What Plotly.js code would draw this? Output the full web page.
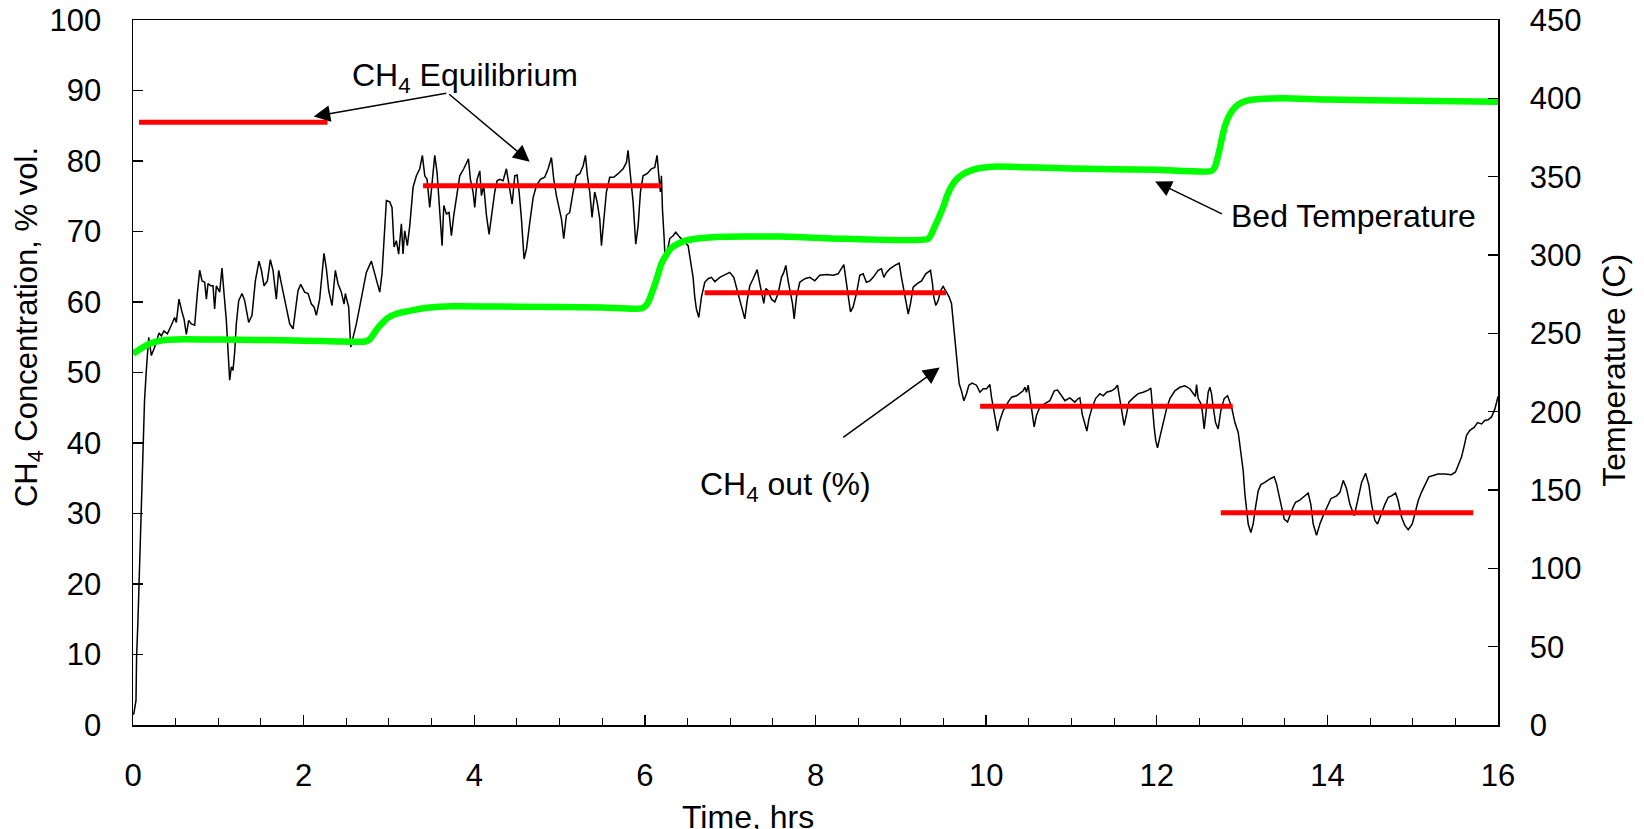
<!DOCTYPE html>
<html>
<head>
<meta charset="utf-8">
<script src="https://cdn.plot.ly/plotly-3.0.1.min.js"></script>
<style>
  html, body { margin: 0; padding: 0; background: #fff; }
  #chart { width: 1644px; height: 829px; }
</style>
</head>
<body>
<div id="chart"></div>
<script>
// Measured CH4 concentration at the reactor outlet (% vol.) versus time (hrs)
const timeHrs = [
  0.00, 0.01, 0.035, 0.042, 0.058, 0.075, 0.096, 0.109, 0.121, 0.135, 0.156, 0.184,
  0.215, 0.254, 0.305, 0.332, 0.363, 0.403, 0.449, 0.488, 0.508, 0.539, 0.574, 0.598,
  0.625, 0.653, 0.684, 0.723, 0.754, 0.782, 0.809, 0.840, 0.860, 0.879, 0.911, 0.938,
  0.957, 0.977, 1.016, 1.043, 1.067, 1.094, 1.114, 1.133, 1.153, 1.172, 1.192, 1.211,
  1.239, 1.278, 1.309, 1.356, 1.395, 1.434, 1.477, 1.505, 1.536, 1.575, 1.610, 1.641,
  1.680, 1.708, 1.739, 1.778, 1.809, 1.837, 1.876, 1.903, 1.934, 1.966, 2.012, 2.052,
  2.091, 2.122, 2.149, 2.188, 2.216, 2.239, 2.267, 2.294, 2.333, 2.372, 2.403, 2.442,
  2.474, 2.489, 2.513, 2.528, 2.552, 2.591, 2.618, 2.657, 2.696, 2.735, 2.794, 2.841,
  2.892, 2.919, 2.943, 2.970, 3.009, 3.036, 3.060, 3.087, 3.114, 3.146, 3.165, 3.185,
  3.216, 3.244, 3.283, 3.322, 3.361, 3.392, 3.420, 3.447, 3.478, 3.510, 3.537, 3.564,
  3.588, 3.603, 3.623, 3.643, 3.674, 3.705, 3.732, 3.760, 3.791, 3.830, 3.877, 3.932,
  3.955, 3.986, 4.006, 4.033, 4.065, 4.084, 4.111, 4.143, 4.174, 4.201, 4.240, 4.268,
  4.299, 4.338, 4.377, 4.416, 4.444, 4.475, 4.502, 4.526, 4.553, 4.584, 4.612, 4.651,
  4.690, 4.729, 4.776, 4.826, 4.866, 4.905, 4.932, 4.963, 4.995, 5.022, 5.049, 5.080,
  5.119, 5.158, 5.198, 5.237, 5.276, 5.303, 5.327, 5.354, 5.381, 5.412, 5.440, 5.471,
  5.491, 5.518, 5.549, 5.588, 5.635, 5.686, 5.745, 5.784, 5.803, 5.831, 5.862, 5.893,
  5.921, 5.948, 5.979, 6.026, 6.077, 6.116, 6.143, 6.167, 6.182, 6.194, 6.206, 6.226,
  6.237, 6.261, 6.292, 6.331, 6.362, 6.409, 6.468, 6.507, 6.534, 6.565, 6.585, 6.604,
  6.632, 6.663, 6.702, 6.741, 6.780, 6.820, 6.878, 6.937, 6.995, 7.042, 7.073, 7.113,
  7.144, 7.171, 7.199, 7.230, 7.269, 7.316, 7.347, 7.367, 7.394, 7.418, 7.445, 7.484,
  7.523, 7.562, 7.601, 7.628, 7.652, 7.679, 7.706, 7.730, 7.750, 7.777, 7.816, 7.875,
  7.933, 7.992, 8.050, 8.129, 8.207, 8.265, 8.332, 8.355, 8.383, 8.410, 8.441, 8.480,
  8.519, 8.558, 8.597, 8.637, 8.676, 8.734, 8.773, 8.801, 8.832, 8.871, 8.930, 8.981,
  9.008, 9.036, 9.067, 9.087, 9.114, 9.145, 9.192, 9.243, 9.293, 9.320, 9.348, 9.371,
  9.387, 9.410, 9.438, 9.465, 9.496, 9.535, 9.567, 9.594, 9.613, 9.633, 9.653, 9.672,
  9.684, 9.711, 9.739, 9.770, 9.798, 9.836, 9.887, 9.927, 9.966, 10.005, 10.044, 10.063,
  10.094, 10.114, 10.133, 10.161, 10.200, 10.258, 10.298, 10.356, 10.395, 10.434, 10.454, 10.473,
  10.493, 10.512, 10.532, 10.563, 10.590, 10.630, 10.688, 10.747, 10.798, 10.837, 10.884, 10.923,
  10.982, 11.040, 11.079, 11.099, 11.126, 11.158, 11.181, 11.205, 11.236, 11.283, 11.333, 11.373,
  11.412, 11.470, 11.509, 11.540, 11.568, 11.595, 11.618, 11.646, 11.673, 11.724, 11.782, 11.841,
  11.900, 11.931, 11.946, 11.970, 11.989, 12.009, 12.036, 12.075, 12.114, 12.154, 12.212, 12.271,
  12.330, 12.388, 12.427, 12.454, 12.466, 12.486, 12.517, 12.533, 12.556, 12.583, 12.603, 12.623,
  12.642, 12.662, 12.689, 12.720, 12.751, 12.790, 12.830, 12.877, 12.916, 12.955, 12.986, 13.013,
  13.033, 13.052, 13.072, 13.103, 13.130, 13.158, 13.189, 13.220, 13.267, 13.326, 13.377, 13.404,
  13.431, 13.463, 13.494, 13.533, 13.560, 13.599, 13.627, 13.677, 13.716, 13.775, 13.806, 13.834,
  13.873, 13.912, 13.951, 13.990, 14.041, 14.108, 14.147, 14.186, 14.225, 14.264, 14.315, 14.354,
  14.401, 14.448, 14.487, 14.518, 14.557, 14.588, 14.627, 14.674, 14.713, 14.752, 14.799, 14.830,
  14.869, 14.908, 14.947, 14.994, 15.025, 15.064, 15.103, 15.142, 15.189, 15.240, 15.298, 15.377,
  15.455, 15.502, 15.533, 15.572, 15.604, 15.631, 15.670, 15.721, 15.760, 15.807, 15.846, 15.885,
  15.924, 15.963, 15.994, 16.000
];
const ch4Out = [
  1.5, 1.6, 3.5, 9.6, 14.8, 22.3, 29.8, 33.6, 39.7, 46.0, 50.3, 55.0,
  52.4, 53.6, 55.6, 55.2, 55.9, 55.5, 56.7, 57.8, 57.1, 60.4, 58.6, 57.6,
  55.4, 57.4, 56.9, 56.7, 61.2, 64.5, 63.0, 62.8, 60.4, 62.6, 62.3, 62.3,
  59.0, 62.3, 61.4, 64.8, 61.2, 57.4, 53.1, 48.9, 50.8, 50.3, 52.9, 56.9,
  60.2, 61.2, 60.2, 57.1, 58.1, 63.0, 65.8, 64.5, 62.3, 63.0, 66.0, 64.5,
  60.4, 64.5, 62.6, 60.4, 58.8, 56.9, 56.2, 58.8, 61.6, 62.5, 61.4, 61.2,
  59.7, 59.3, 58.1, 60.4, 64.5, 66.9, 64.7, 61.6, 59.5, 64.5, 62.6, 61.4,
  59.7, 61.2, 60.0, 59.3, 53.6, 55.5, 56.9, 59.3, 61.9, 64.2, 65.8, 63.5,
  61.4, 64.0, 69.2, 74.4, 74.2, 73.4, 67.8, 68.7, 66.8, 71.1, 66.8, 70.1,
  68.0, 70.8, 76.3, 77.9, 78.9, 80.8, 77.9, 77.4, 73.4, 77.4, 80.8, 78.4,
  74.2, 71.3, 68.0, 73.7, 72.5, 72.7, 69.4, 72.3, 74.6, 77.9, 78.9, 80.3,
  77.4, 75.6, 73.4, 77.4, 78.6, 75.1, 76.5, 72.3, 69.6, 72.3, 75.6, 77.2,
  77.4, 77.2, 78.9, 76.0, 73.9, 77.9, 78.0, 75.6, 71.8, 66.1, 67.5, 71.3,
  74.8, 76.5, 77.4, 77.7, 78.9, 80.5, 77.4, 75.1, 73.0, 71.8, 69.0, 72.3,
  72.7, 75.6, 77.9, 78.2, 79.3, 80.8, 77.9, 75.6, 72.0, 75.6, 74.2, 71.8,
  68.0, 71.8, 75.6, 77.7, 77.7, 78.2, 78.9, 79.8, 81.5, 77.9, 74.2, 68.2,
  70.8, 75.6, 77.9, 78.2, 78.9, 79.1, 80.8, 77.4, 75.6, 77.9, 73.2, 69.0,
  66.1, 67.1, 69.0, 69.4, 69.9, 69.2, 68.5, 68.0, 65.9, 63.5, 60.7, 59.0,
  57.8, 60.7, 62.8, 63.3, 63.5, 62.9, 63.5, 63.8, 64.2, 63.5, 62.1, 60.4,
  59.0, 57.6, 60.2, 62.3, 63.3, 64.6, 62.6, 61.2, 59.8, 61.9, 61.6, 60.4,
  60.0, 61.2, 63.5, 64.2, 65.2, 63.0, 61.2, 59.8, 57.6, 60.7, 62.8, 63.3,
  63.5, 63.0, 63.8, 63.9, 63.8, 64.0, 65.3, 63.5, 61.2, 58.6, 59.3, 61.2,
  63.8, 64.0, 62.8, 63.0, 63.5, 64.5, 64.7, 63.5, 64.2, 64.7, 65.2, 65.5,
  63.5, 61.6, 59.5, 58.3, 59.8, 62.1, 62.6, 63.0, 64.0, 64.2, 64.5, 62.6,
  60.7, 59.5, 60.2, 61.6, 62.2, 61.4, 60.7, 59.8, 57.4, 55.0, 52.6, 49.8,
  48.4, 47.4, 46.0, 47.0, 48.2, 48.5, 48.2, 47.2, 47.7, 47.7, 48.3, 46.5,
  44.6, 43.2, 41.7, 43.2, 44.6, 45.8, 46.5, 46.7, 47.0, 47.4, 47.9, 47.2,
  48.2, 46.5, 44.6, 42.3, 43.9, 45.1, 45.6, 46.0, 47.4, 47.5, 46.7, 46.0,
  46.4, 45.8, 46.3, 46.4, 44.1, 42.9, 41.7, 43.4, 44.8, 46.3, 47.0, 46.7,
  47.2, 47.4, 47.7, 48.2, 46.0, 44.1, 42.5, 44.1, 45.8, 46.4, 47.0, 47.2,
  47.5, 47.8, 45.1, 42.2, 40.3, 39.3, 40.8, 42.9, 44.8, 46.3, 47.4, 47.9,
  48.1, 47.7, 47.0, 46.6, 48.3, 46.3, 45.6, 44.6, 42.0, 45.1, 47.2, 47.9,
  47.0, 45.1, 42.9, 42.0, 44.6, 46.3, 46.7, 45.1, 42.9, 41.5, 38.9, 36.1,
  32.8, 30.4, 28.5, 27.3, 28.5, 30.9, 33.2, 34.1, 34.4, 34.9, 35.2, 34.2,
  32.8, 30.9, 29.2, 28.8, 29.7, 30.9, 31.6, 31.9, 32.3, 32.9, 31.3, 28.5,
  26.9, 28.5, 29.7, 30.7, 32.1, 32.5, 33.0, 34.7, 33.5, 31.3, 29.7, 31.8,
  34.4, 35.7, 34.0, 31.3, 29.0, 28.5, 29.9, 31.3, 32.3, 32.5, 32.9, 31.8,
  29.5, 28.3, 27.7, 28.5, 29.9, 31.8, 33.0, 34.0, 35.2, 35.4, 35.6, 35.6,
  35.5, 35.9, 36.8, 38.0, 39.6, 41.1, 41.8, 42.2, 42.9, 42.7, 43.2, 43.3,
  43.7, 44.8, 46.3, 46.6
];

// Bed temperature (C), right-hand axis
const bedTime = [
  0.00, 0.10, 0.20, 0.35, 0.60, 1.00, 1.50, 2.00, 2.40, 2.72, 2.77, 2.82,
  2.87, 2.93, 2.99, 3.08, 3.17, 3.30, 3.45, 3.75, 4.50, 5.50, 5.97, 6.03,
  6.09, 6.14, 6.19, 6.25, 6.31, 6.40, 6.49, 6.62, 6.80, 7.58, 8.36, 9.32,
  9.36, 9.40, 9.45, 9.50, 9.54, 9.59, 9.65, 9.72, 9.81, 9.93, 10.09, 11.00,
  12.00, 12.64, 12.68, 12.71, 12.74, 12.77, 12.80, 12.84, 12.89, 12.95, 13.01, 13.10,
  13.20, 13.50, 14.00, 15.00, 16.00
];
const bedTemp = [
  237.0, 240.5, 243.5, 245.6, 246.2, 246.0, 245.7, 245.3, 244.8, 244.8, 246.0, 249.5,
  253.4, 257.0, 260.0, 262.3, 263.6, 265.0, 266.3, 267.3, 267.0, 266.5, 266.0, 269.0,
  277.0, 285.0, 294.0, 300.0, 304.5, 307.5, 309.3, 310.5, 311.4, 311.8, 310.3, 310.3,
  313.5, 318.5, 324.5, 331.0, 337.5, 343.5, 348.0, 351.3, 353.7, 355.5, 356.4, 355.2,
  354.4, 353.6, 356.0, 361.5, 368.4, 376.0, 382.5, 388.0, 392.5, 395.8, 397.6, 399.0,
  399.6, 400.0, 399.2, 398.5, 397.8
];

// Equilibrium CH4 concentration for each temperature step (% vol.)
const eqStart = [0.07, 3.40, 6.70, 9.93, 12.75];
const eqEnd   = [2.28, 6.19, 9.53, 12.89, 15.71];
const eqValue = [85.5, 76.5, 61.3, 45.2, 30.1];

// Axis ticks
const xTicks = [0, 2, 4, 6, 8, 10, 12, 14, 16];
const yTicks = [0, 10, 20, 30, 40, 50, 60, 70, 80, 90, 100];
const tTicks = [0, 50, 100, 150, 200, 250, 300, 350, 400, 450];

// Equilibrium steps as one broken line
const eqX = [], eqY = [];
eqStart.forEach((s, i) => {
  eqX.push(s, eqEnd[i], null);
  eqY.push(eqValue[i], eqValue[i], null);
});

const FONT = 'Liberation Sans, Arial, Helvetica, sans-serif';
const TICK_SIZE = 31;
const LABEL_SIZE = 32;

const traces = [
  {
    x: bedTime, y: bedTemp, yaxis: 'y2', type: 'scatter', mode: 'lines',
    line: { color: 'rgb(0,255,0)', width: 6.5, shape: 'spline', smoothing: 0.6 }, hoverinfo: 'skip'
  },
  {
    x: timeHrs, y: ch4Out, type: 'scatter', mode: 'lines',
    line: { color: '#000000', width: 1.5 }, hoverinfo: 'skip'
  },
  {
    x: eqX, y: eqY, type: 'scatter', mode: 'lines', connectgaps: false,
    line: { color: 'rgb(255,0,0)', width: 5 }, hoverinfo: 'skip'
  }
];

const arrowStyle = {
  showarrow: true, arrowhead: 2, arrowsize: 2.2, arrowwidth: 1.5,
  arrowcolor: '#000', standoff: 0, startstandoff: 0,
  xref: 'x', yref: 'y', axref: 'x', ayref: 'y', text: ''
};

const labelFont = { family: FONT, size: LABEL_SIZE, color: '#000' };

const annotations = [
  // arrows
  Object.assign({}, arrowStyle, { x: 2.118, y: 86.3, ax: 3.689, ay: 89.65 }),
  Object.assign({}, arrowStyle, { x: 4.650, y: 79.9, ax: 3.689, ay: 89.65 }),
  Object.assign({}, arrowStyle, { x: 9.456, y: 50.7, ax: 8.307, ay: 40.64 }),
  Object.assign({}, arrowStyle, { x: 11.981, y: 77.1, ax: 12.781, ay: 72.4 }),
  // labels
  { text: 'CH<sub>4</sub> Equilibrium', x: 3.894, y: 91.9, xref: 'x', yref: 'y',
    showarrow: false, xanchor: 'center', yanchor: 'middle', font: labelFont },
  { text: 'CH<sub>4</sub> out (%)', x: 7.651, y: 33.9, xref: 'x', yref: 'y',
    showarrow: false, xanchor: 'center', yanchor: 'middle', font: labelFont },
  { text: 'Bed Temperature', x: 14.31, y: 72.2, xref: 'x', yref: 'y',
    showarrow: false, xanchor: 'center', yanchor: 'middle', font: labelFont },
  // axis titles
  { text: 'CH<sub>4</sub> Concentration, % vol.', textangle: -90, x: -0.0766, y: 0.565,
    xref: 'paper', yref: 'paper', showarrow: false, xanchor: 'center', yanchor: 'middle',
    font: { family: FONT, size: 31, color: '#000' } },
  { text: 'Temperature (C)', textangle: -90, x: 1.0853, y: 0.503,
    xref: 'paper', yref: 'paper', showarrow: false, xanchor: 'center', yanchor: 'middle',
    font: labelFont },
  { text: 'Time, hrs', x: 0.4508, y: -0.13,
    xref: 'paper', yref: 'paper', showarrow: false, xanchor: 'center', yanchor: 'middle',
    font: labelFont }
];

const tickFont = { family: FONT, size: TICK_SIZE, color: '#000' };

const layout = {
  width: 1644, height: 829,
  margin: { l: 133, r: 146, t: 20, b: 104 },
  paper_bgcolor: '#ffffff', plot_bgcolor: '#ffffff',
  showlegend: false,
  font: { family: FONT, size: TICK_SIZE, color: '#000' },
  xaxis: {
    range: [0, 16], tickvals: xTicks, ticktext: xTicks.map(String),
    ticks: 'inside', ticklen: 10, tickwidth: 1.3, tickcolor: '#000',
    minor: { dtick: 0.5, tick0: 0, ticks: 'inside', ticklen: 7, tickwidth: 1, tickcolor: '#000', showgrid: false },
    showline: true, linecolor: '#000', linewidth: 1.5, mirror: true,
    showgrid: false, zeroline: false, ticklabelstandoff: 22,
    tickfont: tickFont
  },
  yaxis: {
    range: [0, 100], tickvals: yTicks, ticktext: yTicks.map(String),
    ticks: 'inside', ticklen: 10, tickwidth: 1.3, tickcolor: '#000',
    showline: true, linecolor: '#000', linewidth: 1.5,
    showgrid: false, zeroline: false, ticklabelstandoff: 24,
    tickfont: tickFont
  },
  yaxis2: {
    range: [0, 450], tickvals: tTicks, ticktext: tTicks.map(String),
    overlaying: 'y', side: 'right', anchor: 'x',
    ticks: 'inside', ticklen: 10, tickwidth: 1.3, tickcolor: '#000',
    showline: true, linecolor: '#000', linewidth: 1.5,
    showgrid: false, zeroline: false, ticklabelstandoff: 24,
    tickfont: tickFont
  },
  annotations: annotations
};

Plotly.newPlot('chart', traces, layout, { staticPlot: true, displayModeBar: false });
</script>
</body>
</html>
